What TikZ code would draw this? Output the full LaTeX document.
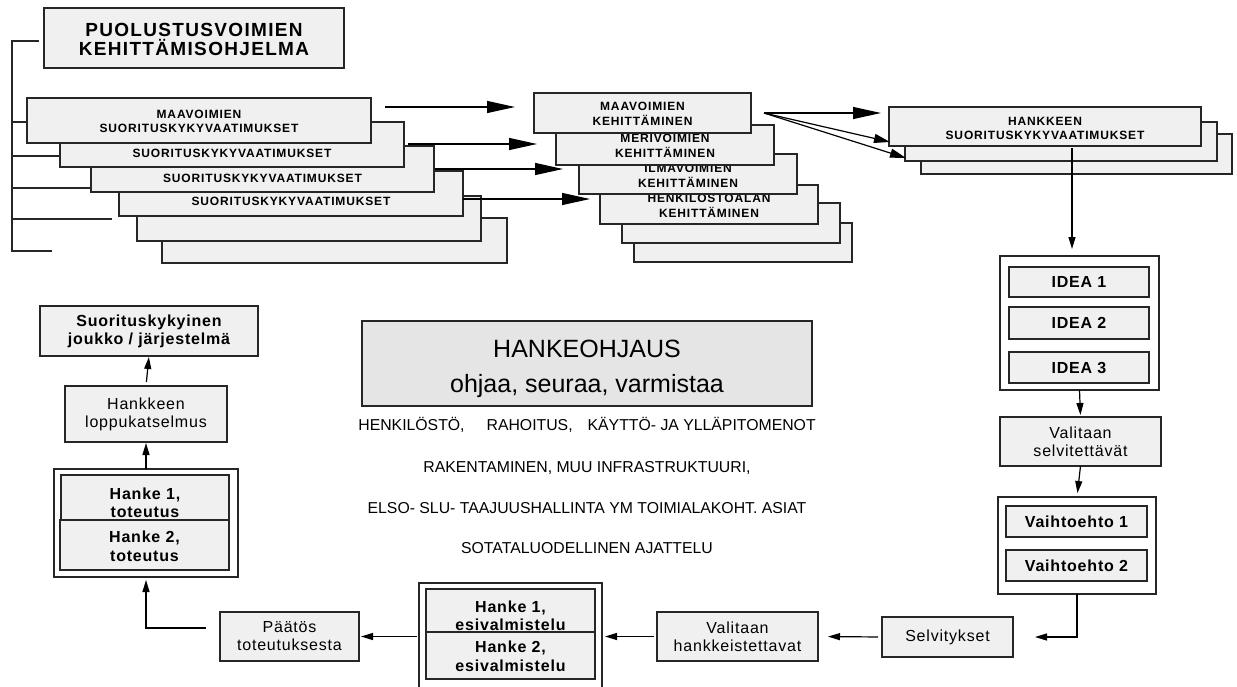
\documentclass[tikz,border=0pt]{standalone}
\usepackage{fontspec}
\setmainfont{Liberation Sans}
\newfontfamily\capsfont[LetterSpace=7]{Liberation Sans}
\newfontfamily\spacedfont[LetterSpace=5]{Liberation Sans}
\usetikzlibrary{arrows.meta}
\definecolor{boxfill}{HTML}{F0F0F0}
\definecolor{hofill}{HTML}{E5E5E5}
\definecolor{edge}{HTML}{262626}
\begin{document}
\begin{tikzpicture}[x=1pt,y=-1pt,
  box/.style={draw=edge,line width=1.3pt,fill=boxfill,anchor=north west,inner sep=0pt,outer sep=0pt,align=center},
  frame/.style={box,fill=white},
  caps/.style={font=\capsfont\bfseries\fontsize{12}{14}\selectfont,anchor=base,inner sep=0pt},
  bigcaps/.style={font=\capsfont\bfseries\fontsize{19}{21}\selectfont,anchor=base,inner sep=0pt},
  btext/.style={font=\spacedfont\bfseries\fontsize{16}{18}\selectfont},
  rtext/.style={font=\spacedfont\fontsize{16}{18}\selectfont},
  btl/.style={btext,anchor=base,inner sep=0pt},
  ctext/.style={font=\fontsize{15.8}{18}\selectfont,anchor=base,inner sep=0pt},
  conn/.style={draw=black,line width=1.2pt},
  bigarrow/.style={conn,-{Triangle[length=28pt,width=12pt]}},
  midarrow/.style={conn,-{Triangle[length=16pt,width=9pt]}},
  smallarrow/.style={conn,-{Triangle[length=12pt,width=7pt]}}]
\useasboundingbox (0,0) rectangle (1237,686);
\clip (0,0) rectangle (1237,686);

% programme box and its bracket
\node[box,minimum width=300pt,minimum height=60pt] (prog) at (44,8) {};
\node[bigcaps] (progA) at (194,36.5) {PUOLUSTUSVOIMIEN};
\node[bigcaps] (progB) at (194,55) {KEHITTÄMISOHJELMA};
\draw[conn,draw=edge] (39,41) -- (12,41) -- (12,251) -- (52,251);
\draw[conn,draw=edge] (12,122) -- (27,122);
\draw[conn,draw=edge] (12,156) -- (60,156);
\draw[conn,draw=edge] (12,188) -- (90,188);
\draw[conn,draw=edge] (12,219) -- (112,219);

% stacked requirement cards (back to front)
\node[box,minimum width=345pt,minimum height=45pt] (L6) at (162,218) {};
\node[box,minimum width=344pt,minimum height=45pt] (L5) at (137,196) {};
\node[box,minimum width=344pt,minimum height=45pt] (L4) at (119,171) {};
\node[caps] (L4t) at (291,205) {SUORITUSKYKYVAATIMUKSET};
\node[box,minimum width=343pt,minimum height=46pt] (L3) at (91,146) {};
\node[caps] (L3t) at (262.5,182) {SUORITUSKYKYVAATIMUKSET};
\node[box,minimum width=344pt,minimum height=45pt] (L2) at (60,122) {};
\node[caps] (L2t) at (232,157) {SUORITUSKYKYVAATIMUKSET};
\node[box,minimum width=344pt,minimum height=45pt] (L1) at (27,98) {};
\node[caps] (L1a) at (199,118.5) {MAAVOIMIEN};
\node[caps] (L1b) at (199,132.5) {SUORITUSKYKYVAATIMUKSET};

% stacked development cards
\node[box,minimum width=218pt,minimum height=39pt] (M6) at (634,223) {};
\node[box,minimum width=218pt,minimum height=40pt] (M5) at (622,203) {};
\node[box,minimum width=218pt,minimum height=39pt] (M4) at (600,185) {};
\node[caps] (M4a) at (709,202) {HENKILÖSTÖALAN};
\node[caps] (M4b) at (709,217) {KEHITTÄMINEN};
\node[box,minimum width=218pt,minimum height=40pt] (M3) at (579,154) {};
\node[caps] (M3a) at (688,172) {ILMAVOIMIEN};
\node[caps] (M3b) at (688,187) {KEHITTÄMINEN};
\node[box,minimum width=218pt,minimum height=40pt] (M2) at (556,125) {};
\node[caps] (M2a) at (665,142) {MERIVOIMIEN};
\node[caps] (M2b) at (665,157) {KEHITTÄMINEN};
\node[box,minimum width=217pt,minimum height=40pt] (M1) at (534,93) {};
\node[caps] (M1a) at (642.5,110.5) {MAAVOIMIEN};
\node[caps] (M1b) at (642.5,125) {KEHITTÄMINEN};

% project requirement cards
\node[box,minimum width=311pt,minimum height=40pt] (R3) at (921,134) {};
\node[box,minimum width=312pt,minimum height=39pt] (R2) at (905,122) {};
\node[box,minimum width=312pt,minimum height=39pt] (R1) at (889,107) {};
\node[caps] (R1a) at (1045,125) {HANKKEEN};
\node[caps] (R1b) at (1045,139.5) {SUORITUSKYKYVAATIMUKSET};

% arrows between the stacks
\coordinate (s1) at (385,107); \coordinate (e1) at (515,107);
\coordinate (s2) at (408,144); \coordinate (e2) at (537,144);
\coordinate (s3) at (435,169); \coordinate (e3) at (563,169);
\coordinate (s4) at (463,199); \coordinate (e4) at (590,199);
\draw[bigarrow] (s1) -- (e1);
\draw[bigarrow] (s2) -- (e2);
\draw[bigarrow] (s3) -- (e3);
\draw[bigarrow] (s4) -- (e4);
\coordinate (f0) at (764,113);
\coordinate (f1) at (881,113);
\coordinate (f2) at (890,142);
\coordinate (f3) at (906,158);
\draw[bigarrow] (f0) -- (f1);
\draw[midarrow] (f0) -- (f2);
\draw[midarrow] (f0) -- (f3);

% right column: ideas and alternatives
\node[frame,minimum width=159pt,minimum height=134pt] (ideas) at (1000,256) {};
\node[box,btext,minimum width=140pt,minimum height=30pt] (idea1) at (1009,267) {IDEA 1};
\node[box,btext,minimum width=140pt,minimum height=32pt] (idea2) at (1009,307) {IDEA 2};
\node[box,btext,minimum width=140pt,minimum height=31pt] (idea3) at (1009,352) {IDEA 3};
\coordinate (r0) at (1072,148); \coordinate (r1) at (1072,249);
\draw[smallarrow] (r0) -- (r1);
\node[box,rtext,minimum width=161pt,minimum height=49pt] (valsel) at (1000,417) {Valitaan\\selvitettävät};
\draw[smallarrow,shorten >=2pt] (ideas.south) -- (valsel.north);
\node[frame,minimum width=158pt,minimum height=97pt] (alts) at (998,497) {};
\node[box,btext,minimum width=141pt,minimum height=31pt] (alt1) at (1006,506) {Vaihtoehto 1};
\node[box,btext,minimum width=141pt,minimum height=31pt] (alt2) at (1006,550) {Vaihtoehto 2};
\draw[smallarrow,shorten >=4pt] (valsel.south) -- (alts.north);

% bottom row
\node[box,rtext,minimum width=131pt,minimum height=40pt] (selv) at (882,617) {Selvitykset};
\draw[smallarrow,shorten >=22pt] (alts.south) |- (selv.east);
\node[box,rtext,minimum width=161pt,minimum height=49pt] (valh) at (657,612) {Valitaan\\hankkeistettavat};
\draw[smallarrow,shorten <=4pt,shorten >=10pt] (selv.west) -- (valh.east);
\node[frame,minimum width=183pt,minimum height=112pt] (esi) at (419,583) {};
\node[box,minimum width=169pt,minimum height=43pt] (esi1) at (426,589) {};
\node[btl] (esi1a) at (510.5,612) {Hanke 1,};
\node[btl] (esi1b) at (510.5,630) {esivalmistelu};
\node[box,minimum width=169pt,minimum height=47pt] (esi2) at (426,632) {};
\node[btl] (esi2a) at (510.5,652) {Hanke 2,};
\node[btl] (esi2b) at (510.5,671) {esivalmistelu};
\draw[smallarrow,shorten <=3pt,shorten >=3pt] (valh.west) -- (esi.east |- valh.west);
\node[box,rtext,minimum width=139pt,minimum height=49pt] (paat) at (220,612) {Päätös\\toteutuksesta};
\draw[smallarrow,shorten <=2pt,shorten >=2pt] (esi.west |- paat.east) -- (paat.east);

% left column
\node[frame,minimum width=184pt,minimum height=108pt] (tot) at (54,469) {};
\node[box,minimum width=168pt,minimum height=45pt] (tot1) at (61,475) {};
\node[btl] (tot1a) at (145,499) {Hanke 1,};
\node[btl] (tot1b) at (145,517) {toteutus};
\node[box,minimum width=169pt,minimum height=50pt] (tot2) at (60,520) {};
\node[btl] (tot2a) at (144.5,542) {Hanke 2,};
\node[btl] (tot2b) at (144.5,561) {toteutus};
\coordinate (p0) at (206,628);
\draw[smallarrow,shorten >=3pt] (p0) -| (tot.south);
\node[box,rtext,minimum width=162pt,minimum height=56pt] (loppu) at (65,386) {Hankkeen\\loppukatselmus};
\draw[smallarrow,shorten >=1pt] (tot.north) -- (loppu.south);
\node[box,btext,minimum width=218pt,minimum height=50pt] (suor) at (40,306) {Suorituskykyinen\\joukko / järjestelmä};
\draw[smallarrow,shorten <=4pt,shorten >=1pt] (loppu.north) -- (suor.south);

% project steering and its cross-cutting topics
\node[box,fill=hofill,minimum width=450pt,minimum height=85pt] (ho) at (362,321) {};
\node[anchor=base,inner sep=0pt,font=\fontsize{25}{28}\selectfont] (hoA) at (587,357.5) {HANKEOHJAUS};
\node[anchor=base,inner sep=0pt,font=\fontsize{25}{28}\selectfont] (hoB) at (587,392) {ohjaa, seuraa, varmistaa};
\node[ctext] (top1) at (587,430.5) {HENKILÖSTÖ,\hspace{22pt}RAHOITUS,\hspace{15pt}KÄYTTÖ- JA YLLÄPITOMENOT};
\node[ctext] (top2) at (587,472) {RAKENTAMINEN, MUU INFRASTRUKTUURI,};
\node[ctext] (top3) at (587,513) {ELSO- SLU- TAAJUUSHALLINTA YM TOIMIALAKOHT. ASIAT};
\node[ctext] (top4) at (587,553) {SOTATALUODELLINEN AJATTELU};
\end{tikzpicture}
\end{document}
